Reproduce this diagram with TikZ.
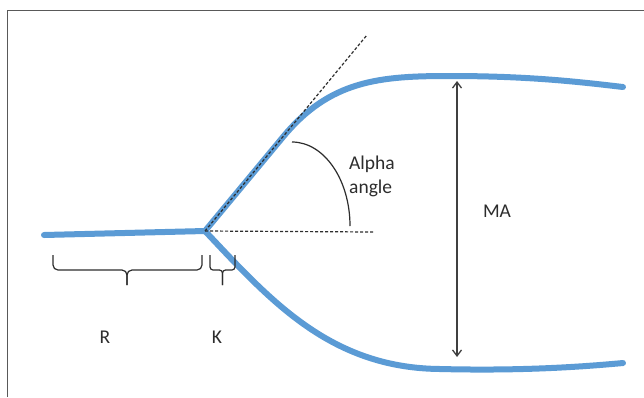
\documentclass[tikz,border=0pt]{standalone}
\usepackage{fontspec}
\setmainfont{Carlito}
\usetikzlibrary{arrows.meta}
\definecolor{vessel}{RGB}{91,155,213}
\definecolor{ink}{RGB}{45,45,45}
\tikzset{
  vesselline/.style={draw=vessel, line width=6pt, line cap=round},
  guide/.style={draw=ink, line width=1.2pt, dash pattern=on 3pt off 2pt},
  bracepath/.style={draw=ink, line width=1.2pt},
  lbl/.style={text=ink, font=\fontsize{19.5}{24}\selectfont, inner sep=0pt}
}
\begin{document}
\begin{tikzpicture}[x=1pt,y=-1pt]
\useasboundingbox (0,0) rectangle (644,397);
\fill[white] (0,0) rectangle (644,397);
\draw[gray!70!black, line width=1.4pt] (7.5,397) -- (7.5,10.5) -- (644,10.5);

\coordinate (V) at (205,231);
\coordinate (L) at (44,235);
\coordinate (UT) at (367,35);
\coordinate (HE) at (373,232);

% vessel
\draw[vesselline] (L) -- (V);
\draw[vesselline] (V) -- (283,137) .. controls (330,80) and (380,76) .. (450,76) .. controls (530,76) and (580,82) .. (623,87);
\draw[vesselline] (V) .. controls (270,300) and (330,368) .. (440,369) .. controls (520,371) and (580,367) .. (623,363);

% guides
\draw[guide] (V) -- (UT);
\draw[guide] (V) -- (HE);

% angle arc
\draw[ink, line width=1.2pt] (292,142) .. controls (324,142) and (350,179.6) .. (350,226);

% MA arrow
\coordinate (MT) at (457,81);
\coordinate (MB) at (457,357);
\draw[black!75, line width=1.3pt, {Straight Barb[length=6pt,width=9pt]}-{Straight Barb[length=6pt,width=9pt]}] (MT) -- (MB);

% braces
\draw[bracepath, rounded corners=5pt] (53,255) -- (53,270) -- (127,270) -- (127,285);
\draw[bracepath, rounded corners=5pt] (202,255) -- (202,270) -- (127,270) -- (127,285);
\draw[bracepath, rounded corners=3pt] (210,255) -- (210,270) -- (222.5,270) -- (222.5,285);
\draw[bracepath, rounded corners=3pt] (235,255) -- (235,270) -- (222.5,270) -- (222.5,285);

% labels
\node[lbl, align=left, anchor=west] (alpha) at (349,176) {Alpha\\angle};
\node[lbl] (ma) at (497,211) {MA};
\node[lbl] (r) at (105,337) {R};
\node[lbl] (k) at (217,337) {K};
\end{tikzpicture}
\end{document}
